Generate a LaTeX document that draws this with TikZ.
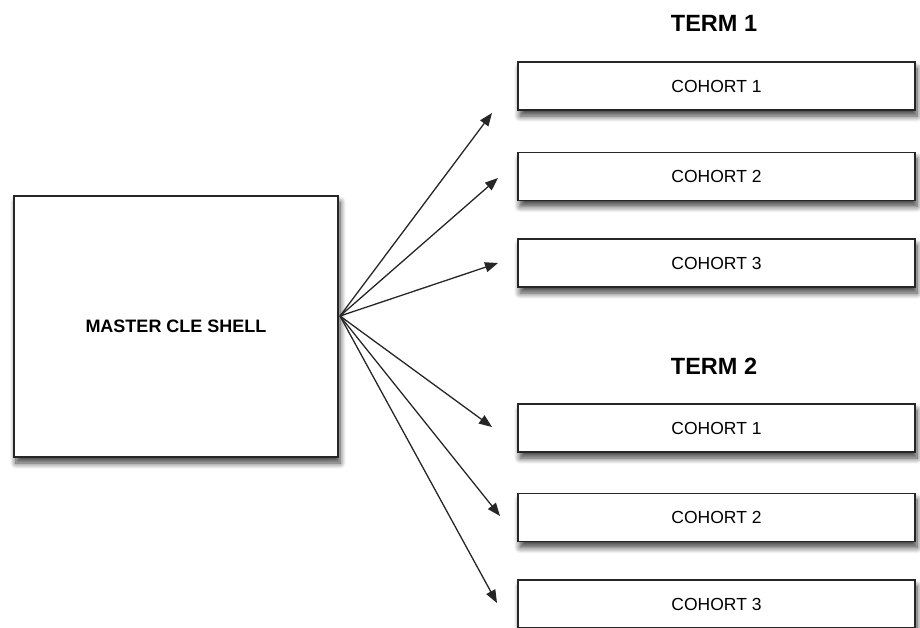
\documentclass[tikz,border=0pt]{standalone}
\usepackage{fontspec}
\setmainfont{Liberation Sans}
\usetikzlibrary{arrows.meta,shadows.blur}
\begin{document}
\begin{tikzpicture}[x=1pt,y=-1pt,
  boxshadow/.style={blur shadow={shadow xshift=2pt,shadow yshift=-6pt,shadow blur steps=8,shadow blur radius=6pt,shadow opacity=75}},
  cohortbox/.style={draw=black!85,line width=1.4pt,fill=white,minimum width=397pt,minimum height=48pt,inner sep=0pt,font=\fontsize{17.5}{20}\selectfont,boxshadow},
  masterbox/.style={draw=black!85,line width=1.4pt,fill=white,minimum width=324pt,minimum height=261pt,inner sep=0pt,font=\bfseries\fontsize{18}{21}\selectfont,boxshadow},
  termlabel/.style={font=\bfseries\fontsize{23.5}{26}\selectfont,inner sep=0pt},
  conn/.style={draw=black!85,line width=1.3pt,-{Triangle[length=13pt,width=10pt]}}
]
\useasboundingbox (0,0) rectangle (920,627);
\clip (0,0) rectangle (920,627);
\node[masterbox] (master) at (176,326.5) {MASTER CLE SHELL};
\coordinate (src) at (340,316);

\node[termlabel] (term1) at (714,23) {TERM 1};
\node[cohortbox] (a1) at (716.5,86) {COHORT 1};
\node[cohortbox] (a2) at (716.5,176.5) {COHORT 2};
\node[cohortbox] (a3) at (716.5,263) {COHORT 3};

\node[termlabel] (term2) at (714,366) {TERM 2};
\node[cohortbox] (b1) at (716.5,428) {COHORT 1};
\node[cohortbox] (b2) at (716.5,517.5) {COHORT 2};
\node[cohortbox] (b3) at (716.5,604) {COHORT 3};

\coordinate (ta1) at (492,113);
\coordinate (ta2) at (498,178);
\coordinate (ta3) at (498,263);
\coordinate (tb1) at (492,427);
\coordinate (tb2) at (500,516);
\coordinate (tb3) at (497,603);

\foreach \t in {ta1,ta2,ta3,tb1,tb2,tb3}
  \draw[conn] (src) -- (\t);
\end{tikzpicture}
\end{document}
